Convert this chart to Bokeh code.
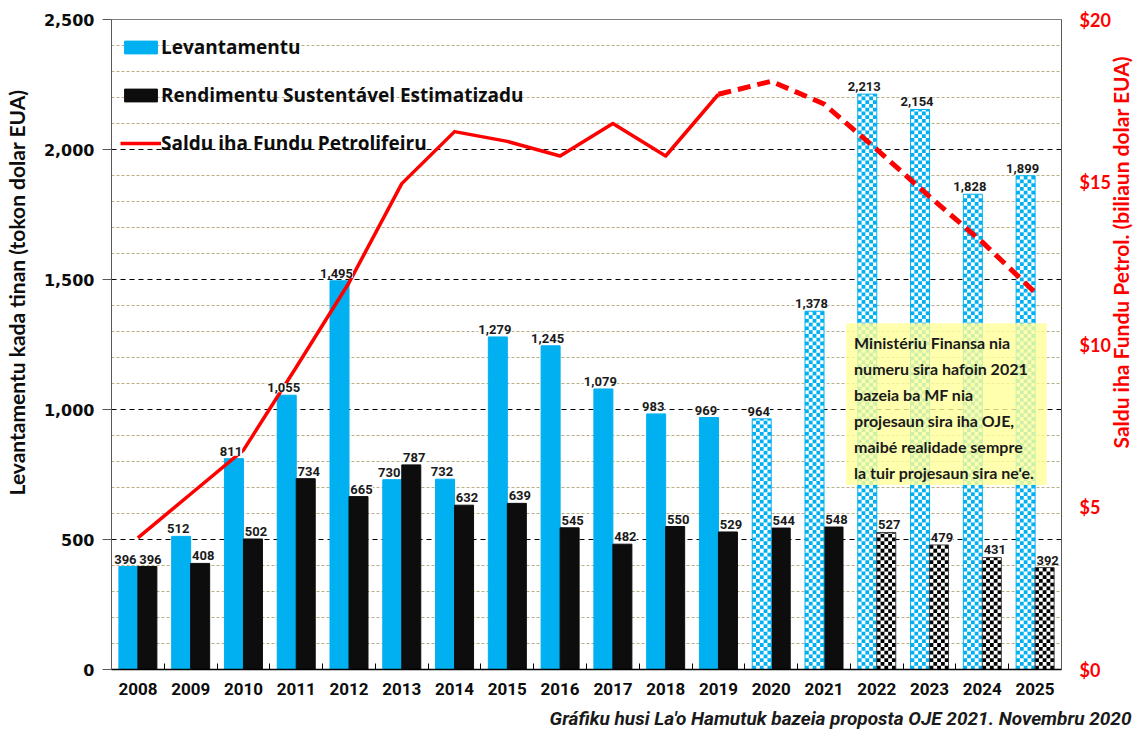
import math
import numpy as np
from bokeh.plotting import figure
from bokeh.models import (Range1d, LinearAxis, FixedTicker, ColumnDataSource, LabelSet, Legend,
                          LegendItem, NumeralTickFormatter, BoxAnnotation, Label, Title,
                          CustomJSTickFormatter)
from bokeh.core.properties import value
from bokeh.embed import file_html
from bokeh.resources import INLINE

# ---------------- data ----------------
years = list(range(2008, 2026))
levantamentu = [396, 512, 811, 1055, 1495, 730, 732, 1279, 1245, 1079, 983, 969, 964, 1378, 2213, 2154, 1828, 1899]
rendimentu = [396, 408, 502, 734, 665, 787, 632, 639, 545, 482, 550, 529, 544, 548, 527, 479, 431, 392]
saldu = [4.05, 5.4, 6.75, 9.3, 11.9, 14.95, 16.55, 16.25, 15.8, 16.8, 15.8, 17.7, 18.1, 17.4, 16.0, 14.55, 13.15, 11.6]
lev_proj_start = 2020      # checkered (projected) withdrawals from this year
ren_proj_start = 2022      # checkered (projected) ESI from this year
saldu_proj_start = 2019    # dashed balance from this year

y_ticks = [0, 500, 1000, 1500, 2000, 2500]
saldu_ticks = [0, 5, 10, 15, 20]

legend_labels = ["Levantamentu", "Rendimentu Sustentável Estimatizadu", "Saldu iha Fundu Petrolifeiru"]
left_title = "Levantamentu kada tinan (tokon dolar EUA)"
right_title = "Saldu iha Fundu Petrol. (biliaun dolar EUA)"
note_lines = ["Ministériu Finansa nia", "numeru sira hafoin 2021", "bazeia ba MF nia",
              "projesaun sira iha OJE,", "maibé realidade sempre", "la tuir projesaun sira ne'e."]
caption = "Gráfiku husi La'o Hamutuk bazeia proposta OJE 2021. Novembru 2020"

# ---------------- style ----------------
BLUE = "#00B0F0"
BLACK = "#0D0D0D"
RED = "#FF0000"
NARROW = "Roboto"
SANS = "Lato"

yr = np.array(years)
lev = np.array(levantamentu)
ren = np.array(rendimentu)
sal = np.array(saldu)
bw = 0.36          # bar width (years)
n_cols = 5         # checker columns per bar
cell_y = 14.5      # checker cell height (data units)
left_title_at = 1450     # where the left title sits (left-axis units)
right_title_at = 6.8     # where the right title sits (right-axis units)

def fmt(v):
    return f"{int(v):,}"

m_lev = yr < lev_proj_start
m_ren = yr < ren_proj_start
m_sal_solid = yr <= saldu_proj_start
m_sal_dash = yr >= saldu_proj_start

lev_x = yr - bw / 2
ren_x = yr + bw / 2

def checker_cells(centers, tops):
    cx = bw / n_cols
    L, R, B, T = [], [], [], []
    for c, t in zip(centers, tops):
        xl = c - bw / 2
        nrows = int(math.ceil(t / cell_y))
        for i in range(nrows):
            for j in range(n_cols):
                if (i + j) % 2 == 0:
                    L.append(float(xl + j * cx))
                    R.append(float(xl + (j + 1) * cx))
                    B.append(float(i * cell_y))
                    T.append(float(min((i + 1) * cell_y, t)))
    return ColumnDataSource(dict(left=L, right=R, bottom=B, top=T))

src_lev_a = ColumnDataSource(dict(x=lev_x[m_lev], top=lev[m_lev]))
src_lev_p = ColumnDataSource(dict(x=lev_x[~m_lev], top=lev[~m_lev]))
src_ren_a = ColumnDataSource(dict(x=ren_x[m_ren], top=ren[m_ren]))
src_ren_p = ColumnDataSource(dict(x=ren_x[~m_ren], top=ren[~m_ren]))
src_lab_lev = ColumnDataSource(dict(x=lev_x, y=lev, t=[fmt(v) for v in lev]))
src_lab_ren = ColumnDataSource(dict(x=ren_x, y=ren, t=[fmt(v) for v in ren]))

p = figure(width=1148, height=737, x_range=Range1d(2007.5, 2025.5), y_range=Range1d(0, 2500),
           output_backend="svg", toolbar_location=None,
           min_border_left=110, min_border_right=84, min_border_top=19, min_border_bottom=67,
           background_fill_color="white", border_fill_color="white")
p.extra_y_ranges = {"saldu": Range1d(0, 20)}
p.outline_line_color = "#7F7F7F"

# grid
p.xgrid.visible = False
g = p.ygrid[0]
g.ticker = FixedTicker(ticks=[500, 1000, 1500, 2000],
                       minor_ticks=[v for v in range(100, 2500, 100) if v % 500 != 0])
g.grid_line_color = "black"
g.grid_line_dash = "5 4"
g.grid_line_width = 1
g.minor_grid_line_color = "#B8AF86"
g.minor_grid_line_dash = "3 2"
g.minor_grid_line_width = 1

# solid bars
r_lev = p.vbar(x="x", top="top", width=bw, bottom=0, source=src_lev_a,
               fill_color=BLUE, line_color=BLUE)
r_ren = p.vbar(x="x", top="top", width=bw, bottom=0, source=src_ren_a,
               fill_color=BLACK, line_color=BLACK)

# checkered (projected) bars
for src, cx, tops, col, edge in ((src_lev_p, lev_x[~m_lev], lev[~m_lev], BLUE, BLUE),
                                 (src_ren_p, ren_x[~m_ren], ren[~m_ren], "#000000", "#404040")):
    p.vbar(x="x", top="top", width=bw, bottom=0, source=src, fill_color="white", line_color=None)
    p.quad(left="left", right="right", bottom="bottom", top="top", source=checker_cells(cx, tops),
           fill_color=col, line_color=None)
    p.vbar(x="x", top="top", width=bw, bottom=0, source=src, fill_color=None,
           line_color=edge, line_width=1)

# balance line
r_sal = p.line(yr[m_sal_solid], sal[m_sal_solid], y_range_name="saldu",
               line_color=RED, line_width=3.5, line_join="round")
p.line(yr[m_sal_dash], sal[m_sal_dash], y_range_name="saldu",
       line_color=RED, line_width=5, line_dash="13 7")

# data labels
for src, dx in ((src_lab_lev, -3), (src_lab_ren, 3)):
    p.add_layout(LabelSet(x="x", y="y", text="t", source=src, y_offset=3, x_offset=dx,
                          text_align="center", text_baseline="bottom",
                          text_font=value(NARROW), text_font_style="bold",
                          text_font_size="13px", text_color="#1A1A1A",
                          background_fill_color="white"))

# axes
xa = p.xaxis[0]
xa.ticker = FixedTicker(ticks=years, minor_ticks=[float(v) + 0.5 for v in yr[:-1]])
xa.major_tick_in = 0
xa.major_tick_out = 0
xa.minor_tick_in = 6
xa.minor_tick_out = 0
xa.minor_tick_line_color = "black"
xa.axis_line_color = "black"
xa.axis_line_width = 1.5
xa.major_label_text_font = NARROW
xa.major_label_text_font_style = "bold"
xa.major_label_text_font_size = "17px"
xa.major_label_text_color = "#0D0D0D"
xa.major_label_standoff = 13

ya = p.yaxis[0]
ya.ticker = FixedTicker(ticks=y_ticks)
ya.formatter = NumeralTickFormatter(format="0,0")
ya.major_tick_in = 0
ya.major_tick_out = 9
ya.minor_tick_line_color = None
ya.axis_line_color = "#595959"
ya.major_tick_line_color = "#595959"
ya.major_label_text_font = "DejaVu Sans"
ya.major_label_text_font_style = "bold"
ya.major_label_text_font_size = "16px"
ya.major_label_text_color = "#0D0D0D"
ya.major_label_standoff = 8

ra = LinearAxis(y_range_name="saldu", ticker=FixedTicker(ticks=saldu_ticks),
                formatter=NumeralTickFormatter(format="$0"))
ra.major_tick_in = 0
ra.major_tick_out = 0
ra.minor_tick_line_color = None
ra.axis_line_color = "#595959"
ra.major_label_text_font = SANS
ra.major_label_text_font_style = "bold"
ra.major_label_text_font_size = "18px"
ra.major_label_text_color = RED
ra.major_label_standoff = 18
p.add_layout(ra, "right")

# axis titles, placed as single-label outer axes so they read bottom-to-top
def title_axis(text, tick, range_name, orientation, standoff, color, size):
    ax = LinearAxis(y_range_name=range_name, ticker=FixedTicker(ticks=[tick]),
                    formatter=CustomJSTickFormatter(args=dict(t=text), code="return t;"))
    ax.axis_line_color = None
    ax.major_tick_line_color = None
    ax.minor_tick_line_color = None
    ax.major_tick_in = 0
    ax.major_tick_out = 0
    ax.major_label_orientation = orientation
    ax.major_label_standoff = standoff
    ax.major_label_text_font = SANS
    ax.major_label_text_font_style = "bold"
    ax.major_label_text_font_size = size
    ax.major_label_text_color = color
    return ax

p.add_layout(title_axis(left_title, left_title_at, "default", "parallel", 12, "#0D0D0D", "21px"), "left")
p.add_layout(title_axis(right_title, right_title_at, "saldu", math.pi / 2, 7, RED, "21px"), "right")

# legend
legend = Legend(items=[LegendItem(label=legend_labels[0], renderers=[r_lev]),
                       LegendItem(label=legend_labels[1], renderers=[r_ren]),
                       LegendItem(label=legend_labels[2], renderers=[r_sal])],
                location="top_left", margin=9, padding=8, spacing=10,
                glyph_width=41, glyph_height=16, label_standoff=0, label_height=38,
                label_text_font="Open Sans", label_text_font_style="bold", label_text_font_size="19px",
                label_text_color="#0D0D0D", background_fill_alpha=0, border_line_color=None)
p.add_layout(legend)

# note box
p.add_layout(BoxAnnotation(left=2021.42, right=2025.22, bottom=710, top=1332,
                           fill_color="#FFFF99", fill_alpha=0.8, line_color=None))
for i, line in enumerate(note_lines):
    p.add_layout(Label(x=2021.57, y=1256 - i * 100, text=line, text_align="left",
                       text_baseline="middle", text_font=SANS, text_font_style="bold",
                       text_font_size="16px", text_color="#1A1A1A"))

# caption (source note, bottom right)
p.add_layout(Title(text=caption, align="right", offset=-70, standoff=15,
                   text_font=NARROW, text_font_style="bold italic", text_font_size="19px",
                   text_color="#1A1A1A"), "below")

open("out.html", "w").write(file_html(p, INLINE))
